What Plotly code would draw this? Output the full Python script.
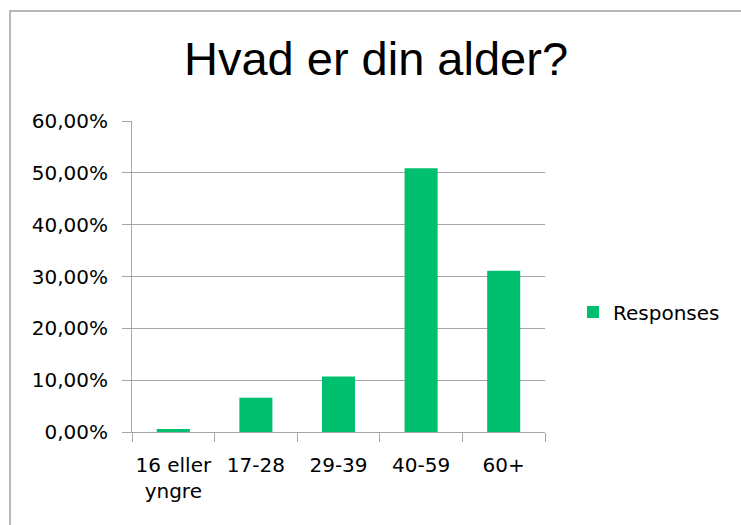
import plotly.graph_objects as go

categories = ["16 eller<br>yngre", "17-28", "29-39", "40-59", "60+"]
responses = [0.006, 0.066, 0.107, 0.509, 0.311]
y_ticks = [0, 0.1, 0.2, 0.3, 0.4, 0.5, 0.6]
title_text = "Hvad er din alder?"
series_name = "Responses"

GREEN = "#00BF6F"
GRID = "#A6A6A6"
FONT = "DejaVu Sans, Open Sans, sans-serif"

W, H = 741, 525
# plot box in reference: x 132..545, y 121..432
L, T = 132, 121
R = W - 545
B = H - 432
pw, ph = W - L - R, H - T - B

def px(x):
    return (x - L) / pw

def py(y):
    return (H - B - y) / ph

fig = go.Figure()
fig.add_trace(go.Bar(
    x=categories, y=responses, name=series_name,
    marker=dict(color=GREEN, line=dict(width=0)),
    showlegend=True,
))

fig.update_layout(
    width=W, height=H,
    margin=dict(l=L, r=R, t=T, b=B, autoexpand=False),
    paper_bgcolor="white", plot_bgcolor="white",
    separators=",.",
    bargap=0.6,
    font=dict(family=FONT, size=20, color="#000000"),
    title=dict(text=title_text, x=376 / W, xanchor="center", xref="container",
               y=1 - 59 / H, yanchor="middle", yref="container",
               font=dict(family="Liberation Sans, Arial, sans-serif", size=47, color="#000000")),
    xaxis=dict(
        showline=True, linecolor=GRID, linewidth=1,
        ticks="outside", ticklen=9, tickcolor=GRID, tickwidth=1,
        tickson="boundaries", showgrid=False, tickangle=0,
        ticklabelstandoff=15,
        tickfont=dict(family=FONT, size=20, color="#000000"),
    ),
    yaxis=dict(
        range=[0, 0.6], tickvals=y_ticks, tickformat=".2%",
        showline=True, linecolor=GRID, linewidth=1,
        ticks="outside", ticklen=9, tickcolor=GRID, tickwidth=1,
        showgrid=True, gridcolor=GRID, gridwidth=1, zeroline=False,
        ticklabelstandoff=10,
        tickfont=dict(family=FONT, size=20, color="#000000"),
    ),
    legend=dict(x=px(573), xanchor="left", y=py(312), yanchor="middle",
                font=dict(family=FONT, size=20, color="#000000"),
                bgcolor="rgba(0,0,0,0)"),
    shapes=[dict(type="rect", xref="paper", yref="paper",
                 x0=px(10), x1=px(800), y0=py(600), y1=py(11),
                 line=dict(color="#A0A0A0", width=1.5), fillcolor="rgba(0,0,0,0)",
                 layer="below")],
)

fig.write_html("out.html", config={"displayModeBar": False},
               post_script="document.body.style.margin='0';document.body.style.overflow='hidden';")
